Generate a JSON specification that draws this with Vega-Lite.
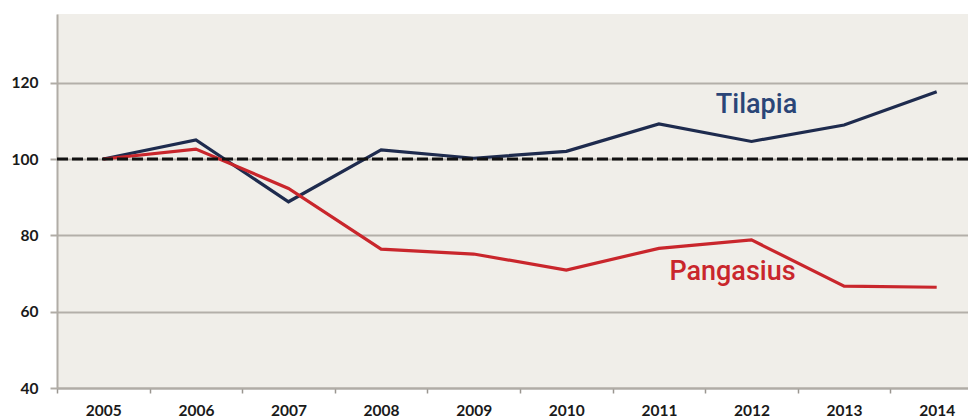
{
  "$schema": "https://vega.github.io/schema/vega-lite/v6.json",
  "width": 926,
  "height": 374,
  "padding": {"left": 11, "top": 14, "right": 0, "bottom": 0},
  "background": "white",
  "config": {
    "view": {"fill": "#f0eee9", "stroke": null},
    "axis": {"labelFont": "Lato", "labelFontWeight": "bold", "labelFontSize": 15.5, "labelColor": "#1a1a1a", "title": null}
  },
  "datasets": {
    "series": [
      {"year": "2005", "species": "Tilapia", "value": 100},
      {"year": "2006", "species": "Tilapia", "value": 105},
      {"year": "2007", "species": "Tilapia", "value": 88.8},
      {"year": "2008", "species": "Tilapia", "value": 102.4},
      {"year": "2009", "species": "Tilapia", "value": 100.2},
      {"year": "2010", "species": "Tilapia", "value": 102},
      {"year": "2011", "species": "Tilapia", "value": 109.2},
      {"year": "2012", "species": "Tilapia", "value": 104.6},
      {"year": "2013", "species": "Tilapia", "value": 108.9},
      {"year": "2014", "species": "Tilapia", "value": 117.6},
      {"year": "2005", "species": "Pangasius", "value": 100},
      {"year": "2006", "species": "Pangasius", "value": 102.6},
      {"year": "2007", "species": "Pangasius", "value": 92.3},
      {"year": "2008", "species": "Pangasius", "value": 76.4},
      {"year": "2009", "species": "Pangasius", "value": 75.1},
      {"year": "2010", "species": "Pangasius", "value": 70.9},
      {"year": "2011", "species": "Pangasius", "value": 76.6},
      {"year": "2012", "species": "Pangasius", "value": 78.8},
      {"year": "2013", "species": "Pangasius", "value": 66.7},
      {"year": "2014", "species": "Pangasius", "value": 66.4}
    ],
    "labels": [
      {"year": "2012", "species": "Tilapia", "value": 114.2},
      {"year": "2012", "species": "Pangasius", "value": 70.4}
    ],
    "baseline": [{"value": 100}]
  },
  "layer": [
    {
      "data": {"name": "series"},
      "mark": {"type": "line", "strokeWidth": 3.2},
      "encoding": {
        "x": {
          "field": "year", "type": "ordinal", "bandPosition": 0.5,
          "scale": {"type": "band", "paddingInner": 0, "paddingOuter": 0},
          "axis": {"labelAngle": 0, "tickBand": "extent", "tickSize": 5, "tickColor": "#9a9690", "tickWidth": 1.5, "domainColor": "#b0aca6", "domainWidth": 2, "labelPadding": 10, "grid": false}
        },
        "y": {
          "field": "value", "type": "quantitative",
          "scale": {"domain": [40, 138], "nice": false, "zero": false},
          "axis": {"values": [40, 60, 80, 100, 120], "grid": true, "gridColor": "#b3afa9", "gridWidth": 2, "domainColor": "#b0aca6", "domainWidth": 2, "tickColor": "#b0aca6", "tickWidth": 2, "tickSize": 7, "labelPadding": 12}
        },
        "color": {
          "field": "species", "type": "nominal",
          "scale": {"domain": ["Tilapia", "Pangasius"], "range": ["#1e2b4e", "#c9262c"]},
          "legend": null
        }
      }
    },
    {
      "data": {"name": "baseline"},
      "mark": {"type": "rule", "strokeWidth": 3.2, "strokeDash": [11, 4], "color": "#111111"},
      "encoding": {"y": {"field": "value", "type": "quantitative"}}
    },
    {
      "data": {"name": "labels"},
      "transform": [{"filter": "datum.species === 'Tilapia'"}],
      "mark": {"type": "text", "font": "Roboto", "fontWeight": 500, "fontSize": 27, "dx": 5, "color": "#2a4577"},
      "encoding": {
        "x": {"field": "year", "type": "ordinal", "bandPosition": 0.5},
        "y": {"field": "value", "type": "quantitative"},
        "text": {"field": "species"}
      }
    },
    {
      "data": {"name": "labels"},
      "transform": [{"filter": "datum.species === 'Pangasius'"}],
      "mark": {"type": "text", "font": "Roboto", "fontWeight": 500, "fontSize": 27, "dx": -19, "color": "#c9262c"},
      "encoding": {
        "x": {"field": "year", "type": "ordinal", "bandPosition": 0.5},
        "y": {"field": "value", "type": "quantitative"},
        "text": {"field": "species"}
      }
    }
  ]
}
